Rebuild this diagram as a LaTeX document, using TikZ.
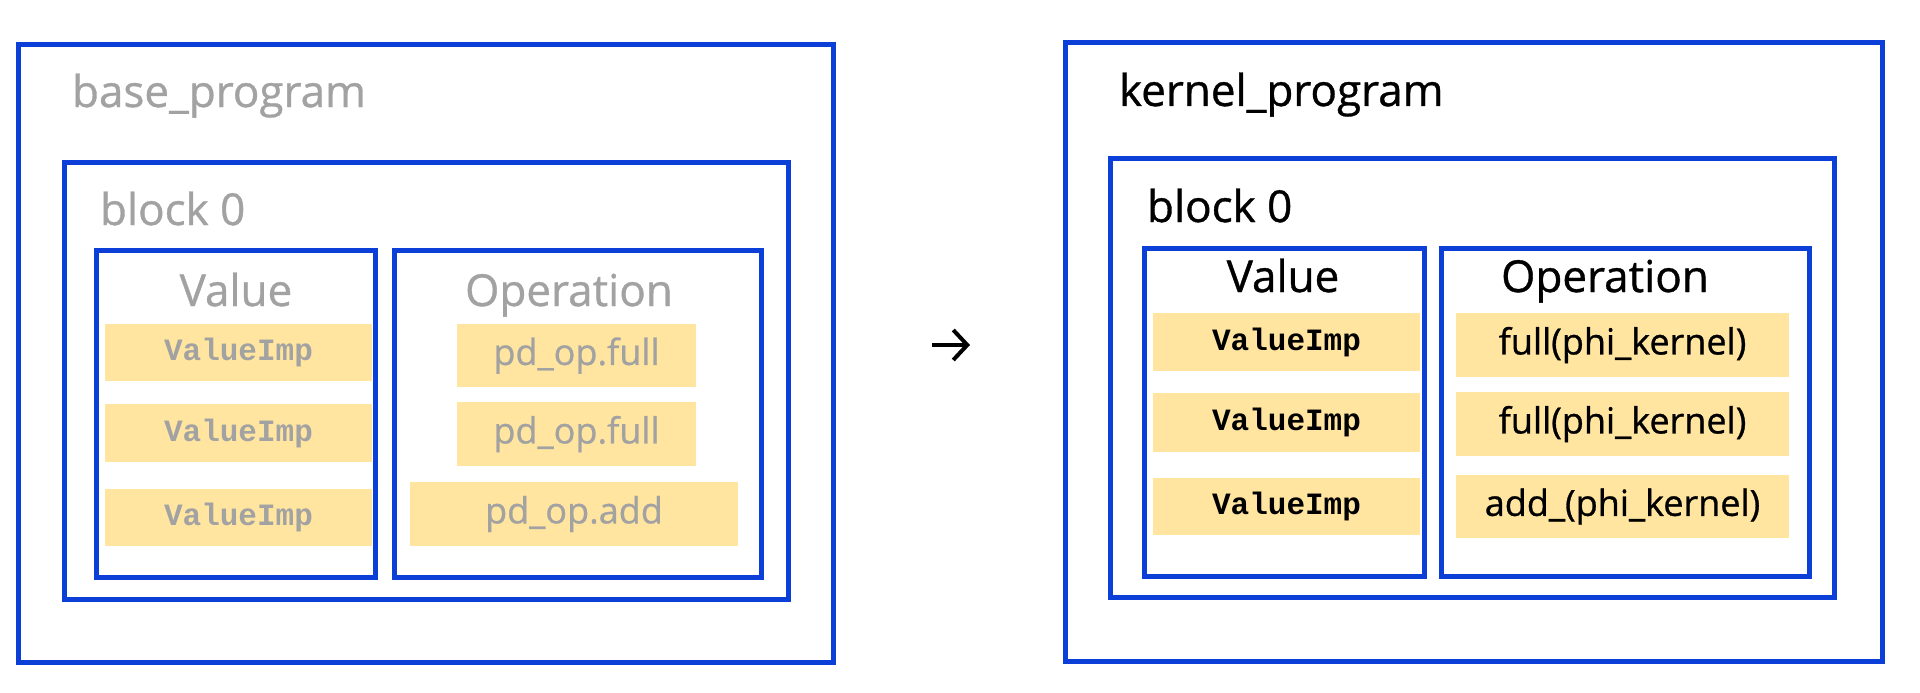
\documentclass[tikz,border=0pt]{standalone}
\usepackage{fontspec}
\setmainfont[FakeBold=0.8]{Open Sans}
\setmonofont{Liberation Mono}
\usetikzlibrary{arrows.meta}

\definecolor{progblue}{RGB}{12,62,216}
\definecolor{fadegray}{RGB}{162,162,162}
\definecolor{cellyellow}{RGB}{255,229,160}

\begin{document}
\begin{tikzpicture}[x=1pt, y=-1pt,
    every node/.style={inner sep=0pt, outer sep=0pt},
    frame/.style={draw=progblue, line width=5pt, anchor=north west},
    cell/.style={fill=cellyellow, anchor=north west},
    title/.style={font=\fontsize{44}{50}\selectfont},
    optext/.style={font=\fontsize{36}{42}\selectfont},
    valtext/.style={font=\fontsize{31}{36}\selectfont\ttfamily\bfseries}]

        \useasboundingbox (0,0) rectangle (1920,693);

        % base program
        \node[frame, minimum width=815pt, minimum height=617pt] (base) at (18,45) {};
        \node[frame, minimum width=724pt, minimum height=437pt] (baseblk) at (64,162) {};
        \node[frame, minimum width=279pt, minimum height=327pt] (baseval) at (96,250) {};
        \node[frame, minimum width=367pt, minimum height=327pt] (baseop) at (394,250) {};
        \node[title, text=fadegray, anchor=base west] (basename) at (72,107) {base\_program};
        \node[title, text=fadegray, anchor=base west] (baseblkname) at (100,225) {block 0};
        \node[title, text=fadegray, anchor=base] (basevalname) at (236,306) {Value};
        \node[title, text=fadegray, anchor=base] (baseopname) at (569,306) {Operation};

        \node[cell, valtext, text=fadegray, minimum width=267pt, minimum height=57pt] (bv1) at (105,324) {ValueImp};
        \node[cell, valtext, text=fadegray, minimum width=267pt, minimum height=58pt] (bv2) at (105,404) {ValueImp};
        \node[cell, valtext, text=fadegray, minimum width=267pt, minimum height=57pt] (bv3) at (105,489) {ValueImp};
        \node[cell, optext, text=fadegray, minimum width=239pt, minimum height=63pt] (bo1) at (457,324) {pd\_op.full};
        \node[cell, optext, text=fadegray, minimum width=239pt, minimum height=64pt] (bo2) at (457,402) {pd\_op.full};
        \node[cell, optext, text=fadegray, minimum width=328pt, minimum height=64pt] (bo3) at (410,482) {pd\_op.add};

        % kernel program
        \node[frame, minimum width=817pt, minimum height=618pt] (kern) at (1065,43) {};
        \node[frame, minimum width=724pt, minimum height=439pt] (kernblk) at (1110,158) {};
        \node[frame, minimum width=280pt, minimum height=328pt] (kernval) at (1144,248) {};
        \node[frame, minimum width=368pt, minimum height=328pt] (kernop) at (1441,248) {};
        \node[title, anchor=base west] (kernname) at (1119,106) {kernel\_program};
        \node[title, anchor=base west] (kernblkname) at (1147,222) {block 0};
        \node[title, anchor=base] (kernvalname) at (1283,292) {Value};
        \node[title, anchor=base] (kernopname) at (1605,292) {Operation};

        \node[cell, valtext, minimum width=267pt, minimum height=58pt] (kv1) at (1153,313) {ValueImp};
        \node[cell, valtext, minimum width=267pt, minimum height=59pt] (kv2) at (1153,393) {ValueImp};
        \node[cell, valtext, minimum width=267pt, minimum height=57pt] (kv3) at (1153,478) {ValueImp};
        \node[cell, optext, minimum width=333pt, minimum height=64pt] (ko1) at (1456,313) {full(phi\_kernel)};
        \node[cell, optext, minimum width=333pt, minimum height=64pt] (ko2) at (1456,392) {full(phi\_kernel)};
        \node[cell, optext, minimum width=333pt, minimum height=63pt] (ko3) at (1456,475) {add\_(phi\_kernel)};

        % lowering arrow
        \coordinate (arrfrom) at (932,345);
        \coordinate (arrto) at (970,345);
        \draw[line width=4pt, -{Straight Barb[length=14pt, width=30pt]}] (arrfrom) -- (arrto);

        \end{tikzpicture}
\end{document}
